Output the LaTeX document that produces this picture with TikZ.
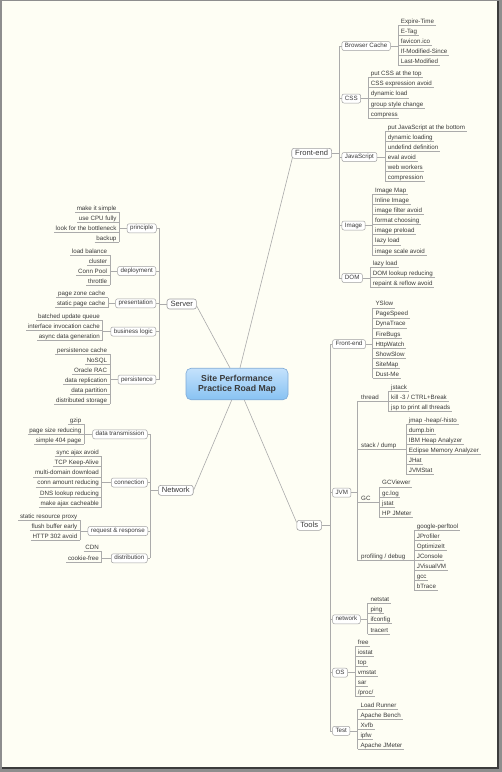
\documentclass[tikz,border=0pt]{standalone}
\usepackage{fontspec}
\setmainfont{Liberation Sans}
\definecolor{txt}{HTML}{3A3A3A}
\definecolor{lnc}{HTML}{ABABAB}
\definecolor{boxc}{HTML}{A0A0A0}
\definecolor{pagec}{HTML}{FEFEF4}
\definecolor{framec}{HTML}{8E8E8E}
\definecolor{shadec}{HTML}{3C3C3C}
\definecolor{ctop}{HTML}{C4E2FC}
\definecolor{cbot}{HTML}{88C2F2}
\definecolor{cbor}{HTML}{7EA9D6}
\newcommand\leaffont{\fontsize{6.2}{7}\selectfont}
\newcommand\mfont{\fontsize{7.6}{9}\selectfont}
\tikzset{
 ln/.style={draw=lnc, line width=0.5pt},
 mln/.style={draw=lnc, line width=0.6pt},
 ul/.style={draw=lnc, line width=0.5pt},
 leafr/.style={font=\leaffont, text=txt, inner sep=0pt, text height=4.4pt, text depth=1.8pt, anchor=west},
 leafl/.style={leafr, anchor=east},
 subbox/.style={draw=boxc, fill=white, rounded corners=2pt, font=\leaffont, text=txt, inner xsep=3pt, inner ysep=1.5pt, text height=4.6pt, text depth=1.4pt, line width=0.5pt},
 mainbox/.style={draw=boxc, fill=white, rounded corners=2.5pt, font=\mfont, text=txt, inner xsep=3.5pt, inner ysep=1.4pt, text height=5.6pt, text depth=1.6pt, line width=0.6pt},
}
\newcommand\rlist[5]{%
 \foreach \t [count=\i, remember=\i as \j (initially 0)] in {#5} {
   \node[leafr] (#1-\i) at (#2+2.7, #3+#4*\i-#4) {\t};
   \draw[ul] ([xshift=-2.7pt]#1-\i.south west) -- ([xshift=1.5pt]#1-\i.south east);
   \ifnum\i>1 \draw[ln] ([xshift=-2.7pt]#1-\j.south west) -- ([xshift=-2.7pt]#1-\i.south west);\fi
 }
 \coordinate (#1-b) at ([xshift=-2.7pt]#1-1.south west);
}
\newcommand\llist[5]{%
 \foreach \t [count=\i, remember=\i as \j (initially 0)] in {#5} {
   \node[leafl] (#1-\i) at (#2-2.7, #3+#4*\i-#4) {\t};
   \draw[ul] ([xshift=-1.5pt]#1-\i.south west) -- ([xshift=2.7pt]#1-\i.south east);
   \ifnum\i>1 \draw[ln] ([xshift=2.7pt]#1-\j.south east) -- ([xshift=2.7pt]#1-\i.south east);\fi
 }
 \coordinate (#1-b) at ([xshift=2.7pt]#1-1.south east);
}
\begin{document}
\begin{tikzpicture}[x=1pt,y=-1pt]
\fill[framec] (0,0) rectangle (502,772);
\fill[shadec] (1.5,1) rectangle (499,768.5);
\fill[pagec] (1.5,1) rectangle (497.3,766.7);
\useasboundingbox (0,0) rectangle (502,772);

% central
\node[draw=cbor, top color=ctop, bottom color=cbot, rounded corners=5pt, minimum width=102pt, minimum height=31.5pt, align=center, font=\fontsize{8.7}{10}\selectfont\bfseries, text=txt, line width=0.6pt] (c) at (237,384) {Site Performance\\Practice Road Map};

% main boxes
\node[mainbox] (fe) at (311.7,153.3) {Front-end};
\node[mainbox] (srv) at (181.7,304) {Server};
\node[mainbox] (net) at (175.8,490.3) {Network};
\node[mainbox] (tools) at (309.2,525.3) {Tools};

\draw[mln] ([xshift=3pt]c.north) -- ([xshift=1pt,yshift=1pt]fe.south west);
\draw[mln] ([xshift=-7pt]c.north) -- ([yshift=-2pt]srv.east);
\draw[mln] ([xshift=-5.3pt]c.south) -- (net.east);
\draw[mln] ([xshift=7.3pt]c.south) -- ([yshift=3pt]tools.west);

% ---------- Front-end (top) ----------
\coordinate (febr) at (339,153.3);
\draw[ln] (fe.east) -- (febr);
\node[subbox, anchor=west] (bc) at (341.7,46) {Browser Cache};
\node[subbox, anchor=west] (css) at (341.7,98.5) {CSS};
\node[subbox, anchor=west] (js) at (341.7,157) {JavaScript};
\node[subbox, anchor=west] (img) at (341.7,225.5) {Image};
\node[subbox, anchor=west] (dom) at (341.7,278) {DOM};
\draw[ln] (bc.west -| febr) -- (dom.west -| febr);
\foreach \n in {bc,css,js,img,dom} {\draw[ln] (\n.west -| febr) -- (\n.west);}
\rlist{bcl}{398}{21.7}{10}{Expire-Time,E-Tag,favicon.ico,If-Modified-Since,Last-Modified}
\rlist{cssl}{368}{74}{10.3}{put CSS at the top,CSS expression avoid,dynamic load,group style change,compress}
\rlist{jsl}{385}{127.7}{10.1}{put JavaScript at the bottom,dynamic loading,undefind definition,eval avoid,web workers,compression}
\rlist{imgl}{372.3}{190.7}{10.17}{Image Map,Inline Image,image filter avoid,format choosing,image preload,lazy load,image scale avoid}
\rlist{doml}{370}{264.3}{10}{lazy load,DOM lookup reducing,repaint \& reflow avoid}
\draw[ln] (bc.east) -- (bc.east -| bcl-b);
\draw[ln] (css.east) -- (css.east -| cssl-b);
\draw[ln] (js.east) -- (js.east -| jsl-b);
\draw[ln] (img.east) -- (img.east -| imgl-b);
\draw[ln] (dom.east) -- (dom.east -| doml-b);

% ---------- Server ----------
\coordinate (srvbr) at (159,304);
\draw[ln] (srv.west) -- (srvbr);
\node[subbox, anchor=east] (pri) at (156.5,228.3) {principle};
\node[subbox, anchor=east] (dep) at (156,271) {deployment};
\node[subbox, anchor=east] (pres) at (156,303.3) {presentation};
\node[subbox, anchor=east] (biz) at (156,331.5) {business logic};
\node[subbox, anchor=east] (pers) at (156,379.5) {persistence};
\draw[ln] (pri.east -| srvbr) -- (pers.east -| srvbr);
\foreach \n in {pri,dep,pres,biz,pers} {\draw[ln] (\n.east) -- (\n.east -| srvbr);}
\llist{pril}{119.3}{209}{10}{make it simple,use CPU fully,look for the bottleneck,backup}
\llist{depl}{110}{251.7}{10.1}{load balance,cluster,Conn Pool,throttle}
\llist{presl}{108.3}{294.3}{10}{page zone cache,static page cache}
\llist{bizl}{102.7}{317.3}{10}{batched update queue,interface invocation cache,async data generation}
\llist{persl}{110}{350.7}{10}{persistence cache,NoSQL,Oracle RAC,data replication,data partition,distributed storage}
\draw[ln] (pri.west) -- (pri.west -| pril-b);
\draw[ln] (dep.west) -- (dep.west -| depl-b);
\draw[ln] (pres.west) -- (pres.west -| presl-b);
\draw[ln] (biz.west) -- (biz.west -| bizl-b);
\draw[ln] (pers.west) -- (pers.west -| persl-b);

% ---------- Network ----------
\coordinate (netbr) at (150,490.3);
\draw[ln] (net.west) -- (netbr);
\node[subbox, anchor=east] (dt) at (147.5,434.3) {data transmission};
\node[subbox, anchor=east] (con) at (147.5,482.5) {connection};
\node[subbox, anchor=east] (rr) at (148,531) {request \& response};
\node[subbox, anchor=east] (dis) at (147.5,558.3) {distribution};
\draw[ln] (dt.east -| netbr) -- (dis.east -| netbr);
\foreach \n in {dt,con,rr,dis} {\draw[ln] (\n.east) -- (\n.east -| netbr);}
\llist{dtl}{84.2}{420.7}{10}{gzip,page size reducing,simple 404 page}
\llist{conl}{101.7}{453.3}{10.1}{sync ajax avoid,TCP Keep-Alive,multi-domain download,conn amount reducing,DNS lookup reducing,make ajax cacheable}
\llist{rrl}{80.2}{516.7}{10}{static resource proxy,flush buffer early,HTTP 302 avoid}
\llist{disl}{101.7}{548.4}{10.5}{CDN,cookie-free}
\draw[ln] (dt.west) -- (dt.west -| dtl-b);
\draw[ln] (con.west) -- (con.west -| conl-b);
\draw[ln] (rr.west) -- (rr.west -| rrl-b);
\draw[ln] (dis.west) -- (dis.west -| disl-b);

% ---------- Tools ----------
\coordinate (tbr) at (330,525.3);
\draw[ln] (tools.east) -- (tbr);
\node[subbox, anchor=west] (tfe) at (332.3,344.2) {Front-end};
\node[subbox, anchor=west] (jvm) at (332.3,492.7) {JVM};
\node[subbox, anchor=west] (tnet) at (332.3,619.3) {network};
\node[subbox, anchor=west] (os) at (332.3,672.7) {OS};
\node[subbox, anchor=west] (test) at (332.3,730.8) {Test};
\draw[ln] (tfe.west -| tbr) -- (test.west -| tbr);
\foreach \n in {tfe,jvm,tnet,os,test} {\draw[ln] (\n.west -| tbr) -- (\n.west);}
\rlist{tfel}{372.7}{304.5}{10.07}{YSlow,PageSpeed,DynaTrace,FireBugs,HttpWatch,ShowSlow,SiteMap,Dust-Me}
\draw[ln] (tfe.east) -- (tfe.east -| tfel-b);

% JVM
\coordinate (jvmbr) at (357.7,492.7);
\draw[ln] (jvm.east) -- (jvmbr);
\node[leafr] (thr) at (361,397.7) {thread};
\node[leafr] (stk) at (361,446) {stack / dump};
\node[leafr] (gc) at (361,499) {GC};
\node[leafr] (prof) at (361,557.3) {profiling / debug};
\rlist{thrl}{388.3}{387.7}{10}{jstack,{kill -3 / CTRL+Break},jsp to print all threads}
\rlist{stkl}{406}{421}{10}{{jmap -heap/-histo},dump.bin,IBM Heap Analyzer,Eclipse Memory Analyzer,JHat,JVMStat}
\rlist{gcl}{379.3}{483.5}{10.2}{GCViewer,gc.log,jstat,HP JMeter}
\rlist{profl}{414}{526.7}{10.1}{google-perftool,JProfiler,OptimizeIt,JConsole,JVisualVM,gcc,bTrace}
\draw[ln] (thr.south -| jvmbr) -- (prof.south -| jvmbr);
\draw[ul] (thr.south -| jvmbr) -- (thr.south -| thrl-b);
\draw[ul] (stk.south -| jvmbr) -- (stk.south -| stkl-b);
\draw[ul] (gc.south -| jvmbr) -- (gc.south -| gcl-b);
\draw[ul] (prof.south -| jvmbr) -- (prof.south -| profl-b);

\rlist{tnetl}{367.7}{599.8}{10.3}{netstat,ping,ifconfig,tracert}
\rlist{osl}{355}{642.7}{10.1}{free,iostat,top,vmstat,sar,{/proc/}}
\rlist{testl}{357.7}{706}{10}{Load Runner,Apache Bench,Xvfb,ipfw,Apache JMeter}
\draw[ln] (tnet.east) -- (tnet.east -| tnetl-b);
\draw[ln] (os.east) -- (os.east -| osl-b);
\draw[ln] (test.east) -- (test.east -| testl-b);
\end{tikzpicture}
\end{document}
